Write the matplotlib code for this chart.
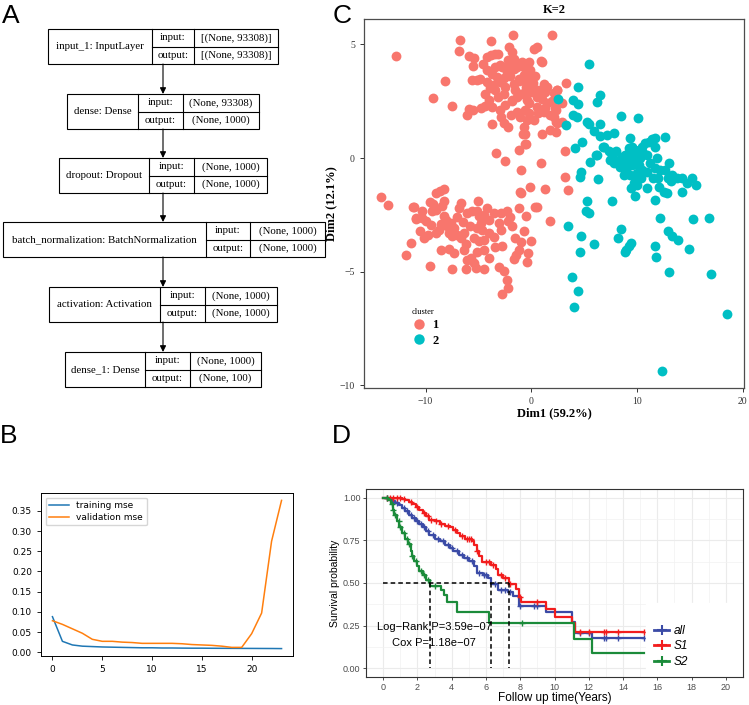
import numpy as np
import matplotlib.pyplot as plt
from matplotlib.lines import Line2D
from matplotlib.patches import Rectangle

W, H = 749, 705
SERIF = 'Liberation Serif'
SANS = 'Liberation Sans'

# ---------------- A: keras model summary ----------------
layer_names = ["input_1: InputLayer", "dense: Dense", "dropout: Dropout",
               "batch_normalization: BatchNormalization", "activation: Activation",
               "dense_1: Dense"]
in_shapes = ["[(None, 93308)]", "(None, 93308)", "(None, 1000)",
             "(None, 1000)", "(None, 1000)", "(None, 1000)"]
out_shapes = ["[(None, 93308)]", "(None, 1000)", "(None, 1000)",
              "(None, 1000)", "(None, 1000)", "(None, 100)"]

# ---------------- B: training history ----------------
epochs = list(range(24))
train_mse = [0.088, 0.027, 0.018, 0.015, 0.014, 0.013, 0.0125, 0.012, 0.0115, 0.011,
             0.011, 0.0105, 0.0105, 0.0102, 0.010, 0.010, 0.0098, 0.0097, 0.0096,
             0.0095, 0.0094, 0.0093, 0.0092, 0.009]
val_mse = [0.078, 0.069, 0.058, 0.047, 0.032, 0.027, 0.027, 0.025, 0.024, 0.022,
           0.022, 0.022, 0.022, 0.021, 0.019, 0.018, 0.017, 0.015, 0.012, 0.012,
           0.046, 0.097, 0.275, 0.376]

# ---------------- C: clustering on two dims ----------------
cluster1 = [
    (-12.8, 4.48), (-6.7, 5.2), (-6.8, 4.7), (-3.8, 5.15), (-1.7, 5.4), (2.0, 5.4),
    (-8.2, 3.4), (-9.3, 2.65), (-7.5, 2.3), (-6.1, 1.9), (-5.5, 2.1), (-5.9, 2.15),
    (-5.9, 4.5), (-5.4, 4.4), (-5.5, 4.05), (-5.6, 3.45), (0.3, 4.8), (0.5, 4.9),
    (0.9, 4.25), (1.0, 4.22), (3.3, 3.3), (2.4, 3.0), (2.3, 2.1), (2.3, 1.6),
    (2.3, 1.15), (1.0, 1.05), (-0.8, 1.05), (-3.7, 1.5), (-2.6, 1.52), (-2.2, 1.35),
    (-0.6, 1.05), (-0.5, 0.61), (-3.3, 0.2), (-2.5, -0.13), (-1.2, 0.37), (-0.6, 0.6),
    (0.95, -0.23), (3.2, 0.3), (-1.0, -0.54), (3.2, -0.83), (3.5, -1.42), (1.3, -1.38),
    (-0.1, -1.26), (-1.1, -1.5), (0.5, -2.17), (1.8, -2.78), (0.35, -2.14),
    (-4.2, 4.44), (-3.8, 4.52), (-3.4, 4.59), (-3.1, 4.55), (-2.15, 4.88), (-1.83, 4.66),
    (-1.67, 4.37), (-1.99, 4.15), (-1.36, 4.0), (-0.88, 4.22), (-0.57, 4.08),
    (-0.25, 4.22), (-0.1, 3.86), (-4.52, 4.15), (-4.2, 3.86), (-3.73, 3.71),
    (-3.25, 3.57), (-2.94, 3.35), (-2.46, 3.13), (-4.83, 3.49), (-5.15, 3.42),
    (-4.2, 3.35), (-3.89, 3.06), (-3.41, 2.98), (-3.1, 2.69), (-4.04, 2.54),
    (-3.73, 2.25), (-2.94, 2.1), (-2.46, 2.32), (-1.83, 2.54), (-1.36, 2.69),
    (-0.73, 2.84), (-0.25, 2.98), (-1.67, 3.27), (-1.2, 3.49), (-0.73, 3.64),
    (-2.3, 3.79), (-2.78, 4.0), (-3.41, 4.0), (-1.36, 2.03), (-1.04, 1.81),
    (-0.41, 1.67), (-0.73, 1.37), (-0.25, 1.96), (-0.73, 4.0), (-0.41, 3.71),
    (-0.88, 3.42), (-0.09, 3.2), (0.54, 2.98), (1.17, 3.27), (1.33, 2.91), (2.12, 2.84),
    (2.43, 2.98), (2.9, 2.43), (2.27, 2.18), (2.12, 1.81), (2.43, 1.52), (2.9, 1.59),
    (1.8, 1.23), (0.22, 1.67), (-0.57, 2.11), (-0.41, 2.54), (0.54, 2.25), (1.17, 2.03),
    (-1.5, 3.0), (-1.0, 2.8), (-0.5, 3.1), (0.0, 2.9), (0.5, 2.7), (1.0, 2.6),
    (1.5, 2.4), (-0.2, 2.4), (-1.8, 2.5), (-2.0, 3.6), (-1.2, 3.4), (-0.3, 3.5),
    (0.2, 3.3), (0.8, 3.0), (1.3, 2.2), (1.8, 1.9), (2.0, 2.5), (-2.6, 2.8),
    (-3.6, 3.2), (-4.4, 2.8), (-4.8, 2.2), (-2.2, 4.3), (-3.0, 4.1), (-2.6, 3.5),
    (-1.6, 3.9), (0.4, 3.6), (1.5, 3.1), (0.6, 2.0), (-1.9, 1.9), (-2.9, 1.8),
    (-4.4, 2.3),
    (-14.2, -1.73), (-13.6, -2.06), (-9.0, -1.55), (-8.6, -1.43), (-8.3, -1.37),
    (-9.6, -1.92), (-11.1, -2.16), (-10.3, -2.35), (-10.93, -2.69), (-9.98, -2.79),
    (-9.5, -2.94), (-9.03, -2.28), (-9.35, -2.35), (-8.4, -2.1), (-8.25, -2.57),
    (-8.09, -2.72), (-7.61, -2.87), (-7.3, -3.08), (-6.98, -3.38), (-6.66, -3.52),
    (-8.72, -3.16), (-9.03, -3.3), (-7.46, -3.45), (-6.35, -3.3), (-6.66, -1.99),
    (-6.82, -2.21), (-6.04, -2.43), (-5.56, -2.35), (-5.09, -2.35), (-4.93, -2.57),
    (-4.77, -2.87), (-5.09, -3.08), (-4.62, -3.16), (-5.4, -3.52), (-4.93, -3.67),
    (-4.45, -3.6), (-3.98, -2.72), (-3.51, -2.43), (-2.87, -2.4), (-2.25, -2.35),
    (-4.14, -2.21), (-5.02, -1.87), (-3.03, -2.84), (-2.18, -2.79), (-1.14, -2.21),
    (-0.98, -1.52), (-0.5, -2.57), (-0.66, -3.23), (-0.98, -3.71), (-0.03, -3.67),
    (-1.14, -4.04), (-1.45, -4.25), (-0.35, -4.18), (-1.61, -4.44), (-0.41, -4.59),
    (-2.87, -3.16), (-3.51, -3.48), (-2.72, -3.86), (-3.98, -4.4), (-11.4, -3.74),
    (-11.88, -4.25), (-10.14, -3.52), (-8.56, -4.04), (-7.3, -4.18), (-9.6, -4.74),
    (-7.46, -4.87), (-6.04, -4.47), (-6.19, -4.88), (-5.24, -4.84), (-4.45, -4.88),
    (-5.4, -4.62), (-6.35, -4.04), (-5.72, -4.4), (-5.09, -4.11), (-4.45, -4.04),
    (-3.03, -4.77), (-2.56, -4.98), (-2.25, -5.35), (-2.18, -5.72), (-2.81, -5.96),
    (-11.2, -2.17), (-10.9, -2.65), (-10.3, -2.65), (-8.0, -3.0), (-7.8, -3.3),
    (-8.5, -2.9), (-7.0, -2.6), (-6.5, -2.8), (-5.8, -3.0), (-6.2, -3.8), (-4.0, -3.3),
    (-3.4, -3.9), (-1.8, -3.0), (-2.0, -2.6), (-10.5, -3.2), (-9.8, -3.4),
    (-1.5, -3.5), (-7.8, -4.0), (-4.5, -2.5), (-8.3, -1.9), (-9.3, -2.0),
]
cluster2 = [
    (5.5, 4.11), (4.42, 3.13), (4.0, 2.57), (4.39, 2.37), (2.5, 2.59), (3.32, 1.45),
    (4.0, 1.89), (4.33, 1.81), (6.54, 2.76), (6.22, 2.47), (5.28, 1.59), (5.43, 1.49),
    (8.5, 1.84), (10.08, 1.78), (6.54, 1.49), (5.97, 1.2), (6.48, 0.96), (7.17, 1.01),
    (7.8, 1.08), (4.8, 0.72), (4.17, 0.42), (6.22, 0.13), (5.59, -0.16), (4.71, -0.6),
    (4.65, -0.85), (6.29, -0.92), (9.38, 0.86), (6.86, 0.47), (7.33, 0.32), (7.65, 0.13),
    (7.49, -0.09), (7.8, -0.23), (8.28, -0.09), (8.6, 0.06), (8.91, 0.13), (9.22, 0.42),
    (9.54, 0.5), (9.86, 0.35), (10.17, 0.28), (10.49, 0.5), (10.81, 0.64), (11.12, 0.72),
    (11.44, 0.82), (11.75, 0.86), (12.7, 0.94), (11.75, 0.47), (10.97, 0.13),
    (10.33, -0.01), (9.86, -0.09), (9.54, -0.31), (9.07, -0.38), (8.75, -0.75),
    (9.38, -0.75), (10.02, -0.67), (10.49, -0.53), (10.97, -0.6), (11.75, -0.45),
    (11.91, -0.01), (12.23, -0.53), (12.7, -0.53), (13.02, -0.23), (13.33, -0.75),
    (13.81, -0.89), (14.28, -0.89), (14.76, -1.11), (15.23, -0.89), (15.64, -1.2),
    (14.28, -1.48), (12.07, -1.26), (12.54, -1.48), (12.86, -1.55), (10.97, -1.33),
    (9.86, -1.67), (7.65, -1.87), (11.75, -1.84), (5.28, -1.87), (5.43, -2.4),
    (12.23, -2.64), (15.33, -2.69), (16.81, -2.62), (9.86, -0.82), (9.7, -1.11),
    (8.44, -0.38), (8.91, -0.09), (5.18, -2.35), (3.44, -2.97), (4.71, -3.42),
    (4.62, -4.11), (5.97, -3.79), (8.5, -3.13), (8.18, -3.52), (9.45, -3.74),
    (9.22, -3.89), (8.98, -4.04), (8.88, -4.14), (12.92, -3.19), (13.34, -3.41),
    (13.93, -3.61), (11.72, -3.89), (11.82, -4.33), (14.98, -3.99), (13.02, -4.99),
    (17.0, -5.1), (3.86, -5.23), (4.39, -5.86), (4.01, -6.56), (18.55, -6.84),
    (12.39, -9.36), (6.1, 0.13), (6.8, 0.5), (9.6, 0.0), (10.0, 0.15), (10.2, -0.3),
    (9.3, 0.2), (10.6, 0.2), (9.0, -0.2), (10.4, -0.9), (11.2, -0.2), (8.0, 0.3),
    (10.0, -1.2), (11.5, -0.9), (12.0, -0.9), (12.9, -0.9), (13.2, -1.0), (9.4, -1.3),
]

# ---------------- D: Kaplan-Meier ----------------
t_end = 15.2
all_t = [0, 0.3, 0.5, 0.7, 0.9, 1.1, 1.3, 1.5, 1.7, 1.9, 2.1, 2.3, 2.5, 2.7, 3.0, 3.3,
         3.6, 3.9, 4.1, 4.4, 4.7, 5.0, 5.3, 5.5, 5.8, 6.1, 6.28, 6.7, 7.3, 7.6, 7.9,
         9.5, 11.0, 11.2, 12.2]
all_s = [1.0, 0.99, 0.98, 0.97, 0.955, 0.94, 0.92, 0.90, 0.88, 0.865, 0.845, 0.825,
         0.805, 0.78, 0.76, 0.745, 0.725, 0.705, 0.685, 0.665, 0.645, 0.63, 0.60, 0.56,
         0.545, 0.53, 0.495, 0.46, 0.445, 0.425, 0.365, 0.33, 0.27, 0.21, 0.18]
s1_t = [0, 1.1, 1.3, 1.5, 1.7, 1.9, 2.1, 2.3, 2.5, 2.7, 3.0, 3.3, 3.6, 3.9, 4.1, 4.3,
        4.5, 4.8, 5.2, 5.3, 5.45, 5.6, 5.75, 6.3, 6.6, 6.7, 7.0, 7.33, 7.75, 7.9, 8.05,
        9.5, 10.0, 11.0, 11.2]
s1_s = [1.0, 0.99, 0.985, 0.975, 0.96, 0.945, 0.93, 0.91, 0.89, 0.87, 0.86, 0.845,
        0.835, 0.825, 0.81, 0.795, 0.775, 0.76, 0.745, 0.72, 0.69, 0.66, 0.62, 0.605,
        0.58, 0.545, 0.53, 0.495, 0.465, 0.42, 0.39, 0.35, 0.30, 0.265, 0.215]
s2_t = [0, 0.3, 0.45, 0.55, 0.65, 0.8, 0.95, 1.1, 1.3, 1.45, 1.6, 1.7, 1.8, 1.95, 2.1,
        2.3, 2.5, 2.73, 3.4, 3.55, 3.75, 4.3, 6.2, 11.15, 12.2]
s2_s = [1.0, 0.985, 0.96, 0.93, 0.90, 0.86, 0.83, 0.79, 0.76, 0.73, 0.69, 0.66, 0.63,
        0.60, 0.57, 0.545, 0.52, 0.48, 0.46, 0.43, 0.39, 0.33, 0.265, 0.175, 0.088]
all_cens = [0.2, 0.4, 0.6, 0.8, 1.2, 1.4, 1.6, 1.8, 2.0, 2.2, 2.4, 2.6, 2.9, 3.2, 3.5,
            3.8, 4.0, 4.3, 4.6, 4.9, 5.2, 5.6, 5.9, 6.0, 6.5, 6.9, 7.1, 7.4, 8.0, 8.8,
            9.0, 11.5, 12.0, 12.9, 13.0, 13.7, 15.2]
s1_cens = [0.2, 0.4, 0.6, 0.8, 1.0, 1.2, 1.6, 2.0, 2.4, 2.6, 2.8, 3.1, 3.4, 3.8, 4.2,
           4.6, 4.9, 5.0, 5.1, 5.5, 6.0, 6.2, 6.4, 6.9, 7.1, 7.4, 8.0, 9.0, 11.5, 12.0,
           12.9, 13.0, 13.7, 15.2]
s2_cens = [0.2, 0.5, 0.6, 0.7, 0.9, 1.0, 1.2, 1.4, 1.5, 1.7, 1.9, 2.2, 2.4, 2.6, 3.0, 8.1]
km_labels = ["all", "S1", "S2"]
km_colors = ["#3B4BA6", "#F21D1D", "#1B8B3A"]
logrank_txt = "Log\u2212Rank P=3.59e\u221207"
cox_txt = "Cox P=1.18e\u221207"


def surv_at(times, surv, t):
    idx = np.searchsorted(times, t, side='right') - 1
    return np.asarray(surv)[idx]


fig = plt.figure(figsize=(W / 100, H / 100), dpi=100)

# panel letters
for letter, (px, py) in zip("ABCD", [(11, 16), (9, 436), (342, 16), (341, 436)]):
    fig.text(px / W, 1 - py / H, letter, fontsize=19, family=SANS, ha='center', va='center')

# ---- A ----
axA = fig.add_axes([0, 1 - 400 / H, 330 / W, 400 / H])
axA.set_xlim(0, 330)
axA.set_ylim(400, 0)
axA.axis('off')
box_left = [48, 67, 59, 3, 49, 65]
box_top = [29, 94, 158, 222, 287, 352]
cell_w = [(104, 42, 84), (71, 45, 76), (90, 45, 73), (203, 44, 75), (111, 45, 72), (80, 45, 71)]
box_h = 35
arrow_x = 163
for i, name in enumerate(layer_names):
    x0, y0 = box_left[i], box_top[i]
    w1, w2, w3 = cell_w[i]
    axA.add_patch(Rectangle((x0, y0), w1 + w2 + w3, box_h, fill=False, lw=0.8, ec='k'))
    axA.plot([x0 + w1] * 2, [y0, y0 + box_h], color='k', lw=0.8)
    axA.plot([x0 + w1 + w2] * 2, [y0, y0 + box_h], color='k', lw=0.8)
    axA.plot([x0 + w1, x0 + w1 + w2 + w3], [y0 + box_h / 2] * 2, color='k', lw=0.8)
    kw = dict(ha='center', va='center', family=SERIF, fontsize=7.8)
    axA.text(x0 + w1 / 2, y0 + box_h / 2, name, **kw)
    axA.text(x0 + w1 + w2 / 2, y0 + box_h / 4, "input:", **kw)
    axA.text(x0 + w1 + w2 / 2, y0 + 3 * box_h / 4, "output:", **kw)
    axA.text(x0 + w1 + w2 + w3 / 2, y0 + box_h / 4, in_shapes[i], **kw)
    axA.text(x0 + w1 + w2 + w3 / 2, y0 + 3 * box_h / 4, out_shapes[i], **kw)
    if i < len(layer_names) - 1:
        axA.annotate('', xy=(arrow_x, box_top[i + 1]), xytext=(arrow_x, y0 + box_h),
                     arrowprops=dict(arrowstyle='-|>', color='k', lw=0.8,
                                     mutation_scale=9, shrinkA=0, shrinkB=0))

# ---- B ----
axB = fig.add_axes([41 / W, 1 - 656 / H, 252 / W, 163 / H])
axB.plot(epochs, train_mse, color='#1f77b4', lw=1.1, label='training mse')
axB.plot(epochs, val_mse, color='#ff7f0e', lw=1.1, label='validation mse')
axB.set_xticks([0, 5, 10, 15, 20])
axB.set_yticks(np.arange(0, 0.36, 0.05))
axB.tick_params(labelsize=6.5, length=3, width=0.6)
for sp in axB.spines.values():
    sp.set_linewidth(0.7)
axB.legend(loc='upper left', fontsize=6.5, handlelength=2.2, borderpad=0.4, labelspacing=0.3)

# ---- C ----
axC = fig.add_axes([364 / W, 1 - 388 / H, 380 / W, 369 / H])
c1 = np.array(cluster1)
c2 = np.array(cluster2)
axC.scatter(c1[:, 0], c1[:, 1], s=50, color='#F8766D', lw=0)
axC.scatter(c2[:, 0], c2[:, 1], s=50, color='#00BFC4', lw=0)
axC.set_xlim(-15.83, 20.14)
axC.set_ylim(-10.11, 6.11)
axC.set_xticks([-10, 0, 10, 20])
axC.set_yticks([-10, -5, 0, 5])
axC.set_xticklabels(['\u221210', '0', '10', '20'], family=SERIF)
axC.set_yticklabels(['\u221210', '\u22125', '0', '5'], family=SERIF)
axC.tick_params(labelsize=7, length=3, width=0.7, colors='#333333', direction='out')
for sp in axC.spines.values():
    sp.set_linewidth(0.9)
    sp.set_color('#4D4D4D')
axC.set_title("K=2", family=SERIF, fontweight='bold', fontsize=9, pad=4)
axC.set_xlabel("Dim1 (59.2%)", family=SERIF, fontweight='bold', fontsize=9, labelpad=1)
axC.set_ylabel("Dim2 (12.1%)", family=SERIF, fontweight='bold', fontsize=9, labelpad=2)
hC = [Line2D([], [], ls='none', marker='o', ms=7.5, color=c, mec='none')
      for c in ['#F8766D', '#00BFC4']]
axC.legend(hC, ['1', '2'], title='cluster', loc='upper left',
           bbox_to_anchor=(400 / W, 1 - 297 / H), bbox_transform=fig.transFigure,
           frameon=False, prop=dict(family=SERIF, weight='bold', size=9),
           title_fontproperties=dict(family=SERIF, size=6),
           alignment='left', handlelength=1.2, handletextpad=0.5, labelspacing=0.25)

# ---- D ----
axD = fig.add_axes([366 / W, 1 - 677 / H, 377 / W, 188 / H])
axD.set_xlim(-1, 21)
axD.set_ylim(-0.05, 1.05)
axD.set_xticks(np.arange(0, 21, 2))
axD.set_xticks(np.arange(1, 21, 2), minor=True)
axD.set_yticks([0, 0.25, 0.5, 0.75, 1.0])
axD.set_yticks([0.125, 0.375, 0.625, 0.875], minor=True)
axD.set_yticklabels(['0.00', '0.25', '0.50', '0.75', '1.00'])
axD.set_axisbelow(True)
axD.grid(which='major', color='#EBEBEB', lw=0.8)
axD.grid(which='minor', color='#F2F2F2', lw=0.5)
axD.tick_params(which='major', labelsize=6.5, length=2.5, width=0.6, colors='#333333',
                labelcolor='#4D4D4D', pad=1.5)
axD.tick_params(which='minor', length=0)
for lab in axD.get_xticklabels() + axD.get_yticklabels():
    lab.set_family(SANS)
for sp in axD.spines.values():
    sp.set_linewidth(0.8)
    sp.set_color('#333333')

groups = [(all_t, all_s, all_cens), (s1_t, s1_s, s1_cens), (s2_t, s2_s, s2_cens)]
medians = []
for (tt, ss, cc), col in zip(groups, km_colors):
    axD.step(list(tt) + [t_end], list(ss) + [ss[-1]], where='post', color=col, lw=1.6)
    axD.plot(cc, surv_at(tt, ss, np.array(cc)), ls='none', marker='+', color=col,
             ms=5, mew=1.0)
    medians.append(next(t for t, s in zip(tt, ss) if s <= 0.5))

axD.plot([0, max(medians)], [0.5, 0.5], color='k', ls=(0, (3, 2)), lw=1.1)
for m in medians:
    axD.plot([m, m], [0.5, 0], color='k', ls=(0, (3, 2)), lw=1.1)

axD.text(2.97, 0.243, logrank_txt, ha='center', va='center', family=SANS, fontsize=8)
axD.text(2.97, 0.151, cox_txt, ha='center', va='center', family=SANS, fontsize=8)
axD.set_ylabel("Survival probability", family=SANS, fontsize=7.5, labelpad=2)
axD.set_xlabel("Follow up time(Years)", family=SANS, fontsize=8.5, labelpad=0)

axD.add_patch(Rectangle((15.35, -0.05), 5.65, 0.435, color='white', zorder=2.2))
hD = [Line2D([], [], color=c, lw=2, marker='+', ms=7, mew=1.5) for c in km_colors]
axD.legend(hD, km_labels, loc='center left', bbox_to_anchor=(15.8, 0.13),
           bbox_transform=axD.transData, frameon=False, borderpad=0, borderaxespad=0,
           prop=dict(family=SANS, style='italic', size=8.5), handlelength=1.3,
           handletextpad=0.4, labelspacing=0.3)

fig.savefig("out.png", dpi=100)
